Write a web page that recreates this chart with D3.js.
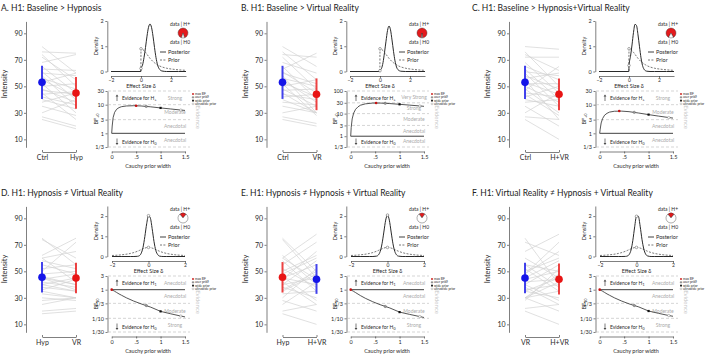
<!DOCTYPE html>
<html>
<head>
<meta charset="utf-8">
<script src="https://cdn.jsdelivr.net/npm/d3@7"></script>
<style>
  body{margin:0;background:#fff;}
  svg{font-family:Lato, "Open Sans", Arial, sans-serif;}
</style>
</head>
<body>
<svg id="fig" width="709" height="354"></svg>
<script>
// panel texts
const panelTitles = [
  "A. H1: Baseline > Hypnosis",
  "B. H1: Baseline > Virtual Reality",
  "C. H1: Baseline > Hypnosis+Virtual Reality",
  "D. H1: Hypnosis \u2260 Virtual Reality",
  "E. H1: Hypnosis \u2260 Hypnosis + Virtual Reality",
  "F. H1: Virtual Reality \u2260 Hypnosis + Virtual Reality"
];
const conditionLabels = [["Ctrl","Hyp"],["Ctrl","VR"],["Ctrl","H+VR"],["Hyp","VR"],["Hyp","H+VR"],["VR","H+VR"]];
const BLUE = "#1414e8", RED = "#e81414";
const conditionColors = [[BLUE,RED],[BLUE,RED],[BLUE,RED],[BLUE,RED],[RED,BLUE],[BLUE,RED]];

// per subject intensity (read approx. off the grey lines)
const ctrlScores = [80,76,74,72,68,65,63,61,60,58,56,55,53,52,50,48,47,45,44,42,40,38,35,30,27,25];
const hypScores  = [60,75,50,55,74,45,62,40,58,35,48,42,60,30,52,38,44,25,46,36,33,45,28,40,20,18];
const vrScores   = [65,55,72,48,60,40,75,45,52,30,50,38,42,28,55,35,48,30,40,44,30,36,30,35,22,20];
const hvrScores  = [78,50,62,72,45,55,40,58,35,48,60,25,44,52,38,30,65,42,28,50,35,40,20,45,25,10];
const panelPairs = [[ctrlScores,hypScores],[ctrlScores,vrScores],[ctrlScores,hvrScores],
                    [hypScores,vrScores],[hypScores,hvrScores],[vrScores,hvrScores]];

// mean and +-SD bars
const meanScores = [[53,45],[53,44],[53,44],[45.5,45],[45.5,44],[45,44]];
const sdLow      = [[40.5,33],[40.5,32],[40.5,32],[34,33.5],[34,33],[33.5,32.5]];
const sdHigh     = [[65.5,57],[65.5,56],[65.5,56],[57,56.5],[57,55.5],[56.5,56]];
const intensityTicks = [10,30,50,70,90];

// prior / posterior densities
const densXOne = [-2,-0.01,0,0.1,0.2,0.3,0.4,0.5,0.6,0.7,0.8,0.9,1.0,1.1,1.2,1.4,1.7,2.0,2.5,3.0];
const priorOne = [0,0,0.9,0.88,0.83,0.76,0.68,0.6,0.52,0.455,0.395,0.345,0.3,0.265,0.23,0.18,0.13,0.1,0.067,0.047];
const postA    = [0,0,0.12,0.25,0.55,0.95,1.4,1.75,1.88,1.75,1.4,0.95,0.55,0.27,0.12,0.02,0,0,0,0];
const postB    = [0,0,0.03,0.12,0.35,0.75,1.2,1.62,1.8,1.65,1.25,0.8,0.42,0.18,0.07,0.01,0,0,0,0];
const postC    = [0,0,0.24,0.6,1.05,1.55,1.87,1.82,1.45,0.98,0.54,0.24,0.09,0.03,0.01,0,0,0,0,0];
const densXTwo = [-2,-1.5,-1,-0.8,-0.6,-0.5,-0.4,-0.3,-0.2,-0.1,0,0.1,0.2,0.3,0.4,0.5,0.6,0.8,1,1.5,2];
const priorTwo = [0.05,0.082,0.15,0.197,0.262,0.3,0.341,0.381,0.417,0.441,0.45,0.441,0.417,0.381,0.341,0.3,0.262,0.197,0.15,0.082,0.05];
const postD    = [0,0,0,0,0.01,0.04,0.16,0.45,0.99,1.62,2.02,1.91,1.38,0.75,0.3,0.1,0.02,0,0,0,0];
const postE    = [0,0,0,0,0.018,0.076,0.25,0.63,1.21,1.8,2.05,1.8,1.21,0.63,0.25,0.076,0.018,0,0,0,0];
const postF    = [0,0,0,0,0.005,0.025,0.1,0.32,0.8,1.47,1.99,1.99,1.5,0.85,0.37,0.12,0.03,0,0,0,0];
const posteriors = [postA,postB,postC,postD,postE,postF];
const pieH1 = [0.9,0.97,0.84,0.22,0.2,0.22];

// Bayes factor robustness
const bfWidths = [0,0.01,0.03,0.06,0.1,0.15,0.2,0.3,0.45,0.6,0.8,1.0,1.2,1.414,1.5];
const bfA = [1,1.8,3.6,5.4,6.9,7.9,8.5,9.0,9.2,9.0,8.4,7.7,7.1,6.5,6.3];
const bfB = [1,2.4,5.8,10.5,15.5,20,23.5,27,29.3,29.3,27.8,25.8,23.8,21.8,21];
const bfC = [1,1.4,2.3,3.3,4.3,5.0,5.5,5.9,5.95,5.7,5.1,4.5,4.0,3.55,3.4];
const bfD = [1,0.98,0.94,0.88,0.8,0.71,0.64,0.52,0.4,0.32,0.245,0.175,0.145,0.12,0.112];
const bfE = [1,0.98,0.93,0.87,0.79,0.7,0.62,0.5,0.38,0.3,0.23,0.165,0.138,0.115,0.107];
const bfF = [1,0.98,0.94,0.88,0.8,0.71,0.64,0.52,0.4,0.32,0.25,0.18,0.15,0.125,0.118];
const bfCurves = [bfA,bfB,bfC,bfD,bfE,bfF];
const maxBF = [[0.5,9.2],[0.52,29.5],[0.4,5.98],[0,1],[0,1],[0,1]];
const priorWidths = [0.707,1,1.414];
const userBF  = [8.7,28.6,5.4,0.28,0.26,0.28];
const wideBF  = [7.7,25.8,4.5,0.175,0.165,0.18];
const ultraBF = [6.5,21.8,3.55,0.12,0.115,0.125];
const bfTicksTop3 = [30,10,3,1,1/3];
const bfTicksB = [100,30,10,3,1,1/3];
const bfTicksBottom = [3,1,1/3,1/10,1/30];
const bfTickText = {100:"100",30:"30",10:"10",3:"3",1:"1"};
const bandsTop3 = ["Strong","Moderate","Anecdotal","Anecdotal"];
const bandsB = ["Very Strong","Strong","Moderate","Anecdotal","Anecdotal"];
const bandsBottom = ["Anecdotal","Anecdotal","Moderate","Strong"];
const legendNames = ["max BF","user prior","wide prior","ultrawide prior"];

const svg = d3.select("#fig");
const titleX = [1,241,472];
const dotDX = [0,240.5,483];
const rightDX = [0,239,488];
const rowDY = [0,185];
const titleY = [11,196];
const INK = "#2a2a2a";

function styleAxis(a, size){
  a.attr("font-size", size).attr("font-family", null).attr("color", INK);
  a.selectAll("path,line").attr("stroke-width", 0.6);
}

function drawDots(g, i){
  const labels = conditionLabels[i];
  const y = d3.scaleLinear().domain([4,99]).range([147.3,21.4]);
  const x = d3.scalePoint().domain(labels).range([42,76]);
  const [a,b] = panelPairs[i];
  g.selectAll("line.subj").data(d3.range(a.length)).join("line")
    .attr("x1", x(labels[0])).attr("x2", x(labels[1]))
    .attr("y1", k => y(a[k])).attr("y2", k => y(b[k]))
    .attr("stroke", "#d2d2d2").attr("stroke-width", 0.7);

  const ya = g.append("g").attr("transform","translate(26,0)")
    .call(d3.axisLeft(y).tickValues(intensityTicks).tickSize(2).tickSizeOuter(0).tickPadding(1.5));
  styleAxis(ya, 7);
  const xa = g.append("g").attr("transform","translate(0,152)")
    .call(d3.axisBottom(x).tickSize(-2).tickSizeOuter(0).tickPadding(3));
  styleAxis(xa, 7);
  g.append("text").attr("transform","translate(7,84) rotate(-90)")
    .attr("text-anchor","middle").attr("font-size",7.5).attr("fill",INK).text("Intensity");

  labels.forEach((lab,k)=>{
    const c = conditionColors[i][k];
    g.append("line").attr("x1",x(lab)).attr("x2",x(lab))
      .attr("y1",y(sdLow[i][k])).attr("y2",y(sdHigh[i][k]))
      .attr("stroke",c).attr("stroke-opacity",0.8).attr("stroke-width",2);
    g.append("circle").attr("cx",x(lab)).attr("cy",y(meanScores[i][k])).attr("r",3.8).attr("fill",c);
  });
}

function drawDensity(g, i){
  const two = i >= 3;
  const xs = two ? densXTwo : densXOne;
  const prior = two ? priorTwo : priorOne;
  const post = posteriors[i];
  const x = d3.scaleLinear().domain(two ? [-2,2] : [-2,3]).range(two ? [112,185] : [111,186]);
  const y = d3.scaleLinear().domain(two ? [0,2.5] : [0,2]).range([71.5,21]);

  const xa = g.append("g").attr("transform","translate(0,76)")
    .call(d3.axisBottom(x).tickValues([-2,0,2]).tickFormat(d3.format("d"))
      .tickSize(2).tickSizeOuter(0).tickPadding(0.5));
  styleAxis(xa, 5);
  const ya = g.append("g").attr("transform","translate(107.3,0)")
    .call(d3.axisLeft(y).tickValues([0,1,2]).tickFormat(d3.format("d"))
      .tickSize(2).tickSizeOuter(0).tickPadding(1.5));
  styleAxis(ya, 5.5);
  g.append("text").attr("x",x(0)).attr("y",88.3).attr("text-anchor","middle")
    .attr("font-size",5.5).attr("fill",INK).text("Effect Size \u03b4");
  g.append("text").attr("transform","translate(97.5,46) rotate(-90)").attr("text-anchor","middle")
    .attr("font-size",5.5).attr("fill",INK).text("Density");

  const line = d3.line().x((d,k)=>x(xs[k])).y(d=>y(d)).curve(d3.curveMonotoneX);
  g.append("path").attr("d", line(prior)).attr("fill","none")
    .attr("stroke","#555").attr("stroke-width",0.8).attr("stroke-dasharray","2,1.4");
  g.append("path").attr("d", line(post)).attr("fill","none")
    .attr("stroke",INK).attr("stroke-width",1);
  const z = xs.indexOf(0);
  [prior[z], post[z]].forEach(v=>{
    g.append("circle").attr("cx",x(0)).attr("cy",y(v)).attr("r",1.3)
      .attr("fill","#fff").attr("stroke","#555").attr("stroke-width",0.5);
  });

  // legend
  g.append("line").attr("x1",160).attr("x2",166).attr("y1",52).attr("y2",52).attr("stroke",INK).attr("stroke-width",0.9);
  g.append("text").attr("x",168).attr("y",54).attr("font-size",5.5).attr("fill",INK).text("Posterior");
  g.append("line").attr("x1",160).attr("x2",166).attr("y1",60).attr("y2",60).attr("stroke","#555")
    .attr("stroke-width",0.8).attr("stroke-dasharray","2,1.4");
  g.append("text").attr("x",168).attr("y",62).attr("font-size",5.5).attr("fill",INK).text("Prior");

  // pie
  const p = pieH1[i];
  const pie = d3.pie().sort(null).startAngle(-p*Math.PI).endAngle(2*Math.PI - p*Math.PI);
  const arc = d3.arc().innerRadius(0).outerRadius(5);
  const pg = g.append("g").attr("transform","translate(183,33)");
  pg.selectAll("path").data(pie([p,1-p])).join("path").attr("d",arc)
    .attr("fill",(d,k)=> k===0 ? "#e31a1c" : "#fff").attr("stroke","#333").attr("stroke-width",0.4);
  g.append("text").attr("x",180).attr("y",26).attr("text-anchor","middle").attr("font-size",5).attr("fill",INK).text("data | H+");
  g.append("text").attr("x",180).attr("y",44).attr("text-anchor","middle").attr("font-size",5).attr("fill",INK).text("data | H0");
}

function drawRobustness(g, i){
  const ticks = i === 1 ? bfTicksB : (i < 3 ? bfTicksTop3 : bfTicksBottom);
  const bands = i === 1 ? bandsB : (i < 3 ? bandsTop3 : bandsBottom);
  const sub = i < 3 ? "+0" : "10";
  const hSub = i < 3 ? "+" : "1";
  const x = d3.scaleLinear().domain([0,1.5]).range([111.7,185]);
  const y = d3.scaleLog().domain([ticks[ticks.length-1], ticks[0]]).range([147,91]);
  const fmt = t => bfTickText[t] || ("1/" + Math.round(1/t));

  const ya = g.append("g").attr("transform","translate(107.5,0)")
    .call(d3.axisLeft(y).tickValues(ticks).tickFormat(fmt).tickSize(2).tickSizeOuter(0).tickPadding(1.5));
  styleAxis(ya, 5.5);
  const xa = g.append("g").attr("transform","translate(0,151.5)")
    .call(d3.axisBottom(x).tickValues([0,0.5,1,1.5]).tickFormat(d=> d===0.5 ? ".5" : String(d))
      .tickSize(2).tickSizeOuter(0).tickPadding(1.5));
  styleAxis(xa, 5.5);
  g.append("text").attr("x",148).attr("y",168).attr("text-anchor","middle")
    .attr("font-size",5.5).attr("fill",INK).text("Cauchy prior width");
  const bl = g.append("text").attr("transform","translate(97.5,119) rotate(-90)").attr("text-anchor","middle")
    .attr("font-size",5.5).attr("fill",INK);
  bl.append("tspan").text("BF");
  bl.append("tspan").attr("font-size",3.8).attr("dy",1.2).text(sub);

  ticks.forEach(t=>{
    if (t === 1) {
      g.append("line").attr("x1",x(0)).attr("x2",x(1.5)).attr("y1",y(t)).attr("y2",y(t))
        .attr("stroke",INK).attr("stroke-width",0.9);
    } else {
      g.append("line").attr("x1",108).attr("x2",190).attr("y1",y(t)).attr("y2",y(t))
        .attr("stroke","#b8b8b8").attr("stroke-width",0.6).attr("stroke-dasharray","3,2");
    }
  });
  bands.forEach((b,k)=>{
    g.append("text").attr("x",175).attr("y",(y(ticks[k])+y(ticks[k+1]))/2 + 1.7)
      .attr("text-anchor","middle").attr("font-size",5).attr("fill","#ababab").text(b);
  });
  g.append("text").attr("transform","translate(196,117) rotate(90)").attr("text-anchor","middle")
    .attr("font-size",6).attr("fill","#c8c8c8").text("Evidence");

  // evidence arrows
  const arrow = (cy, up) => {
    const s = up ? -1 : 1;
    g.append("line").attr("x1",117).attr("x2",117).attr("y1",cy - 3*s).attr("y2",cy + 2*s)
      .attr("stroke","#444").attr("stroke-width",0.7);
    g.append("path").attr("d",`M115.6,${cy+1.6*s}L117,${cy+3.4*s}L118.4,${cy+1.6*s}Z`).attr("fill","#444");
  };
  arrow(98, true); arrow(141.5, false);
  [[100, hSub],[143.5, "0"]].forEach(([ty, h])=>{
    const t = g.append("text").attr("x",122).attr("y",ty).attr("font-size",5).attr("fill",INK);
    t.append("tspan").text("Evidence for H");
    t.append("tspan").attr("font-size",3.6).attr("dy",1).text(h);
  });

  const line = d3.line().x((d,k)=>x(bfWidths[k])).y(d=>y(d));
  g.append("path").attr("d", line(bfCurves[i])).attr("fill","none").attr("stroke",INK).attr("stroke-width",0.8);

  // markers
  const marks = g.append("g");
  marks.append("circle").attr("cx",x(priorWidths[0])).attr("cy",y(userBF[i])).attr("r",1.2)
    .attr("fill","#999").attr("stroke","#555").attr("stroke-width",0.4);
  marks.append("rect").attr("x",x(priorWidths[1])-1.1).attr("y",y(wideBF[i])-1.1).attr("width",2.2).attr("height",2.2).attr("fill","#111");
  marks.append("circle").attr("cx",x(priorWidths[2])).attr("cy",y(ultraBF[i])).attr("r",1.2)
    .attr("fill","#fff").attr("stroke","#666").attr("stroke-width",0.4);
  marks.append("circle").attr("cx",x(maxBF[i][0])).attr("cy",y(maxBF[i][1])).attr("r",1.3).attr("fill","#c81010");

  // legend
  legendNames.forEach((n,k)=>{
    const ly = 94 + k*3.3;
    if (k === 0) g.append("circle").attr("cx",193).attr("cy",ly).attr("r",0.9).attr("fill","#c81010");
    if (k === 1) g.append("circle").attr("cx",193).attr("cy",ly).attr("r",0.9).attr("fill","#999").attr("stroke","#555").attr("stroke-width",0.3);
    if (k === 2) g.append("rect").attr("x",192.1).attr("y",ly-0.9).attr("width",1.8).attr("height",1.8).attr("fill","#111");
    if (k === 3) g.append("circle").attr("cx",193).attr("cy",ly).attr("r",0.9).attr("fill","#fff").attr("stroke","#666").attr("stroke-width",0.3);
    const t = g.append("text").attr("x",195).attr("y",ly+1.1).attr("font-size",3.3).attr("fill",INK).text(n);
    if (k === 0) t.append("tspan").attr("font-size",2.4).attr("dy",0.7).text(sub);
  });
}

panelTitles.forEach((t,i)=>{
  const col = i % 3, row = Math.floor(i / 3);
  svg.append("text").attr("x",titleX[col]).attr("y",titleY[row]).attr("font-size",8.5).attr("fill","#222").text(t);
  drawDots(svg.append("g").attr("transform",`translate(${dotDX[col]},${rowDY[row]})`), i);
  const rg = svg.append("g").attr("transform",`translate(${rightDX[col]},${rowDY[row]})`);
  drawDensity(rg, i);
  drawRobustness(rg, i);
});
</script>
</body>
</html>
